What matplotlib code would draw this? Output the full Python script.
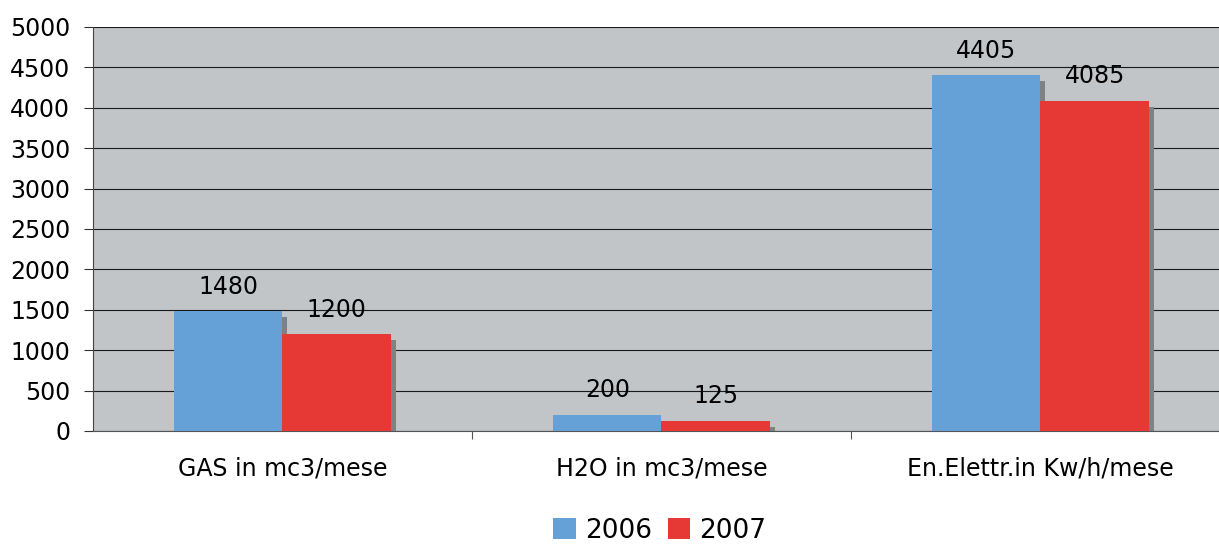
import numpy as np
import matplotlib
matplotlib.use("Agg")
import matplotlib.pyplot as plt
import matplotlib.transforms as mtransforms

# data
categories = ["GAS in mc3/mese", "H2O in mc3/mese", "En.Elettr.in Kw/h/mese"]
years = ["2006", "2007"]
values_2006 = [1480, 200, 4405]
values_2007 = [1200, 125, 4085]
yticks = [0, 500, 1000, 1500, 2000, 2500, 3000, 3500, 4000, 4500, 5000]

c_2006 = "#65A1D7"
c_2007 = "#E63834"
c_shadow = "#7E8285"
c_bg = "#C1C5C8"

plt.rcParams['font.family'] = ['DejaVu Sans']

fig = plt.figure(figsize=(12.19, 5.45), dpi=100)
ax = fig.add_axes([93/1219, 114/545, (1230-93)/1219, 404/545])
ax.set_facecolor(c_bg)

x = np.arange(len(categories))
w = 0.286

# shadows shifted a few pixels right and down
shadow_tr = ax.transData + mtransforms.ScaledTranslation(5/100, -6/100, fig.dpi_scale_trans)
for off, vals in [(-w/2, values_2006), (w/2, values_2007)]:
    ax.bar(x + off, vals, w, color=c_shadow, transform=shadow_tr, zorder=2, linewidth=0)

b1 = ax.bar(x - w/2, values_2006, w, color=c_2006, zorder=3, linewidth=0, label=years[0])
b2 = ax.bar(x + w/2, values_2007, w, color=c_2007, zorder=3, linewidth=0, label=years[1])

for bars, vals in [(b1, values_2006), (b2, values_2007)]:
    for r, v in zip(bars, vals):
        ax.annotate(str(v), (r.get_x() + r.get_width()/2, v), xytext=(0, 9),
                    textcoords="offset points", ha="center", va="bottom",
                    fontsize=17, zorder=5)

ax.set_xlim(-0.5, 2.5)
ax.set_ylim(0, 5000)
ax.set_yticks(yticks)
ax.yaxis.grid(True, color="#1a1a1a", linewidth=0.8)
ax.set_axisbelow(True)

ax.set_xticks([0.5, 1.5])
ax.set_xticklabels([])
ax.set_xticks(x, minor=True)
ax.set_xticklabels(categories, minor=True)
ax.tick_params(axis="x", which="major", direction="out", length=6, color="#555555")
ax.tick_params(axis="x", which="minor", length=0, pad=18, labelsize=17)
ax.tick_params(axis="y", direction="out", length=6.5, pad=10, labelsize=17, color="#333333")

for s in ["top", "right"]:
    ax.spines[s].set_visible(False)
ax.spines["left"].set_color("#444444")
ax.spines["bottom"].set_color("#555555")

fig.legend(handles=[b1, b2], loc="center", bbox_to_anchor=(660/1219, 1 - 531/545),
           ncol=2, frameon=False, fontsize=19, handlelength=0.85, handleheight=0.85,
           handletextpad=0.35, columnspacing=0.6)

fig.savefig("out.png", dpi=100)
